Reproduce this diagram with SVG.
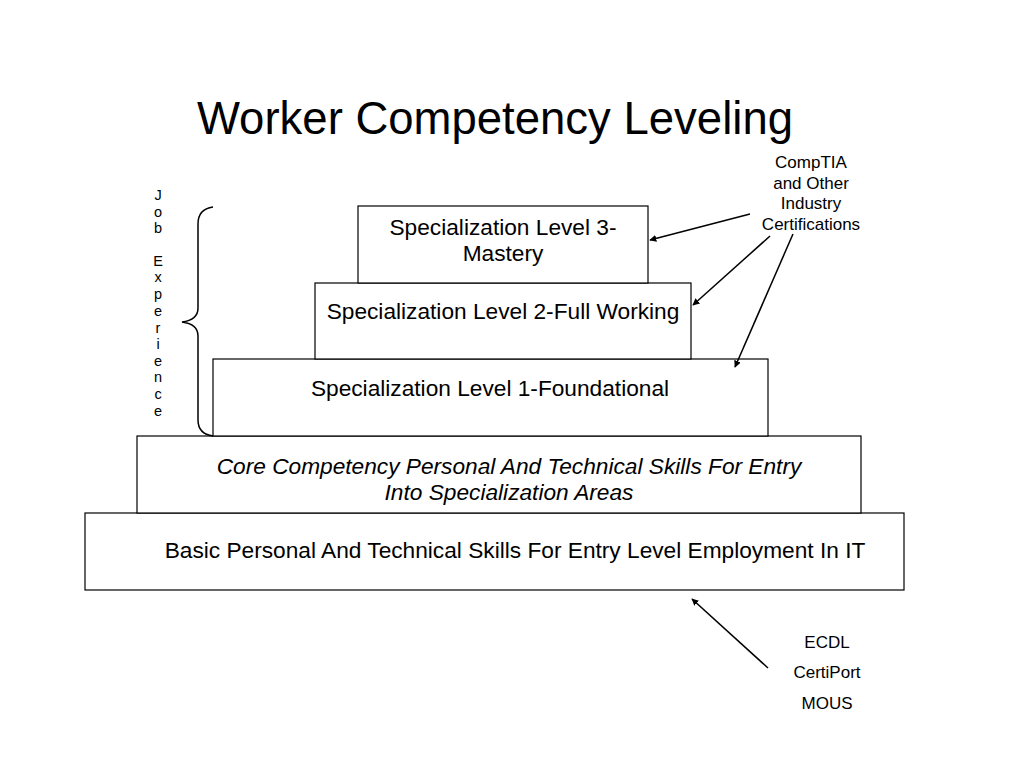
<svg xmlns="http://www.w3.org/2000/svg" width="1024" height="768" viewBox="0 0 1024 768">
<style>
text{font-family:"Liberation Sans",Arial,sans-serif;fill:#000}
.box{fill:#fff;stroke:#000;stroke-width:1.2}
.t{font-size:22.7px;text-anchor:middle}
.s{font-size:17px;text-anchor:middle}
.v{font-size:14.5px;text-anchor:middle}
.c{stroke:#000;stroke-width:1.5;fill:none}
</style>
<defs>
<marker id="ah" viewBox="0 0 10 10" refX="9" refY="5" markerWidth="7" markerHeight="7" orient="auto" markerUnits="userSpaceOnUse">
<path d="M0,0 L10,5 L0,10 z" fill="#000"/>
</marker>
</defs>
<rect width="1024" height="768" fill="#fff"/>
<text x="495" y="134" font-size="45.5" text-anchor="middle">Worker Competency Leveling</text>
<g id="basic"><rect class="box" x="85" y="513" width="819" height="77"/>
<text class="t" x="515" y="558">Basic Personal And Technical Skills For Entry Level Employment In IT</text></g>
<g id="core"><rect class="box" x="137" y="436" width="724" height="77"/>
<text class="t" x="509" y="474" font-style="italic">Core Competency Personal And Technical Skills For Entry</text>
<text class="t" x="509" y="500" font-style="italic">Into Specialization Areas</text></g>
<g id="level1"><rect class="box" x="213" y="359" width="555" height="77"/>
<text class="t" x="490" y="396">Specialization Level 1-Foundational</text></g>
<g id="level2"><rect class="box" x="315" y="283" width="376" height="76"/>
<text class="t" x="503" y="319">Specialization Level 2-Full Working</text></g>
<g id="level3"><rect class="box" x="358" y="206" width="290" height="77"/>
<text class="t" x="503" y="235">Specialization Level 3-</text>
<text class="t" x="503" y="261">Mastery</text></g>
<g id="comptia"><text class="s" x="811" y="168">CompTIA</text>
<text class="s" x="811" y="189">and Other</text>
<text class="s" x="811" y="209">Industry</text>
<text class="s" x="811" y="230">Certifications</text></g>
<g id="ecdl"><text class="s" x="827" y="648">ECDL</text>
<text class="s" x="827" y="678">CertiPort</text>
<text class="s" x="827" y="709">MOUS</text></g>
<g id="jobexp"><text class="v" x="158" y="200">J</text><text class="v" x="158" y="217">o</text><text class="v" x="158" y="233">b</text>
<text class="v" x="158" y="266">E</text><text class="v" x="158" y="282">x</text><text class="v" x="158" y="299">p</text><text class="v" x="158" y="316">e</text><text class="v" x="158" y="333">r</text><text class="v" x="158" y="349">i</text><text class="v" x="158" y="366">e</text><text class="v" x="158" y="382">n</text><text class="v" x="158" y="399">c</text><text class="v" x="158" y="416">e</text>
<path class="c" stroke-width="1.2" d="M213,207 Q198,209 198,224 L198,308 Q198,320 182,322 Q198,324 198,336 L198,420 Q198,434 213,436"/></g>
<g id="connectors">
<line class="c" x1="750" y1="214" x2="650" y2="240" marker-end="url(#ah)"/>
<line class="c" x1="770" y1="236" x2="693" y2="305" marker-end="url(#ah)"/>
<line class="c" x1="793" y1="234" x2="735" y2="367" marker-end="url(#ah)"/>
<line class="c" x1="768" y1="668" x2="692" y2="599" marker-end="url(#ah)"/>
</g>
</svg>
